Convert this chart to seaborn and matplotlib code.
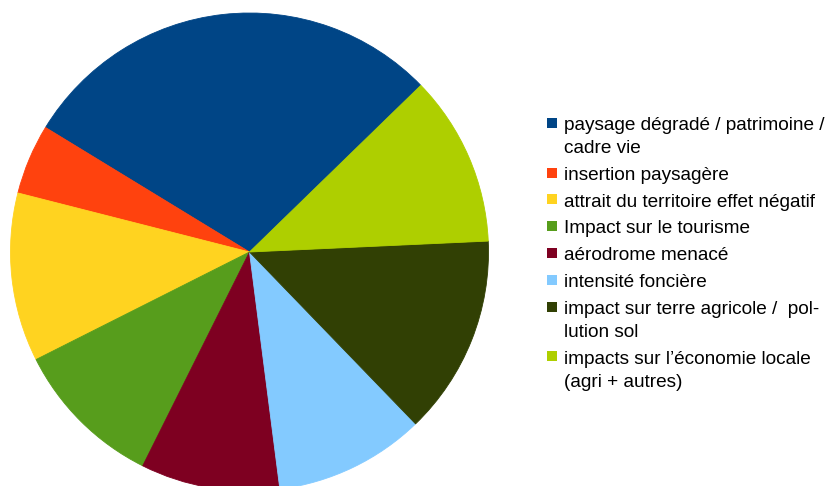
import numpy as np
import matplotlib
matplotlib.use("Agg")
import matplotlib.pyplot as plt
import seaborn as sns
from matplotlib.patches import Rectangle

# parts of the pie, in %
labels = [
    "paysage dégradé / patrimoine /\ncadre vie",
    "insertion paysagère",
    "attrait du territoire effet négatif",
    "Impact sur le tourisme",
    "aérodrome menacé",
    "intensité foncière",
    "impact sur terre agricole /  pol-\nlution sol",
    "impacts sur l’économie locale\n(agri + autres)",
]
values = [29.0, 4.75, 11.4, 10.2, 9.4, 10.2, 13.5, 11.55]
colors = ["#004586", "#ff420e", "#ffd320", "#579d1c",
          "#7e0021", "#83caff", "#314004", "#aecf00"]

sns.set_style("white")
plt.rcParams["font.family"] = ["Liberation Sans", "DejaVu Sans"]

W, H = 827, 486
fig = plt.figure(figsize=(W / 100, H / 100), dpi=100)

# pie: centre (249.5, 252) px, radius 239 px
cx, cy, r = 249.5, 252, 239
ax = fig.add_axes([(cx - r) / W, (H - cy - r) / H, 2 * r / W, 2 * r / H])
wedges, _ = ax.pie(values, colors=colors, startangle=44.2, counterclock=True,
                   radius=1, wedgeprops=dict(linewidth=0.6))
for w in wedges:
    w.set_edgecolor(w.get_facecolor())
ax.set_xlim(-1, 1)
ax.set_ylim(-1, 1)
ax.set_aspect("equal")
ax.axis("off")

# legend, drawn by hand so the square sits on the first line
fs = 13.7
sq = 10
x_sq, x_txt = 546.7, 564
y = 122.7
step, line_h = 26.8, 23
for lab, col in zip(labels, colors):
    fig.patches.append(Rectangle((x_sq / W, (H - y - sq / 2) / H), sq / W, sq / H,
                                 transform=fig.transFigure, facecolor=col,
                                 edgecolor="none"))
    lines = lab.split("\n")
    for j, ln in enumerate(lines):
        fig.text(x_txt / W, (H - (y + 7.3 + j * line_h)) / H, ln,
                 fontsize=fs, va="baseline", ha="left", color="black")
    y += step + line_h * (len(lines) - 1)

fig.savefig("out.png", dpi=100)
